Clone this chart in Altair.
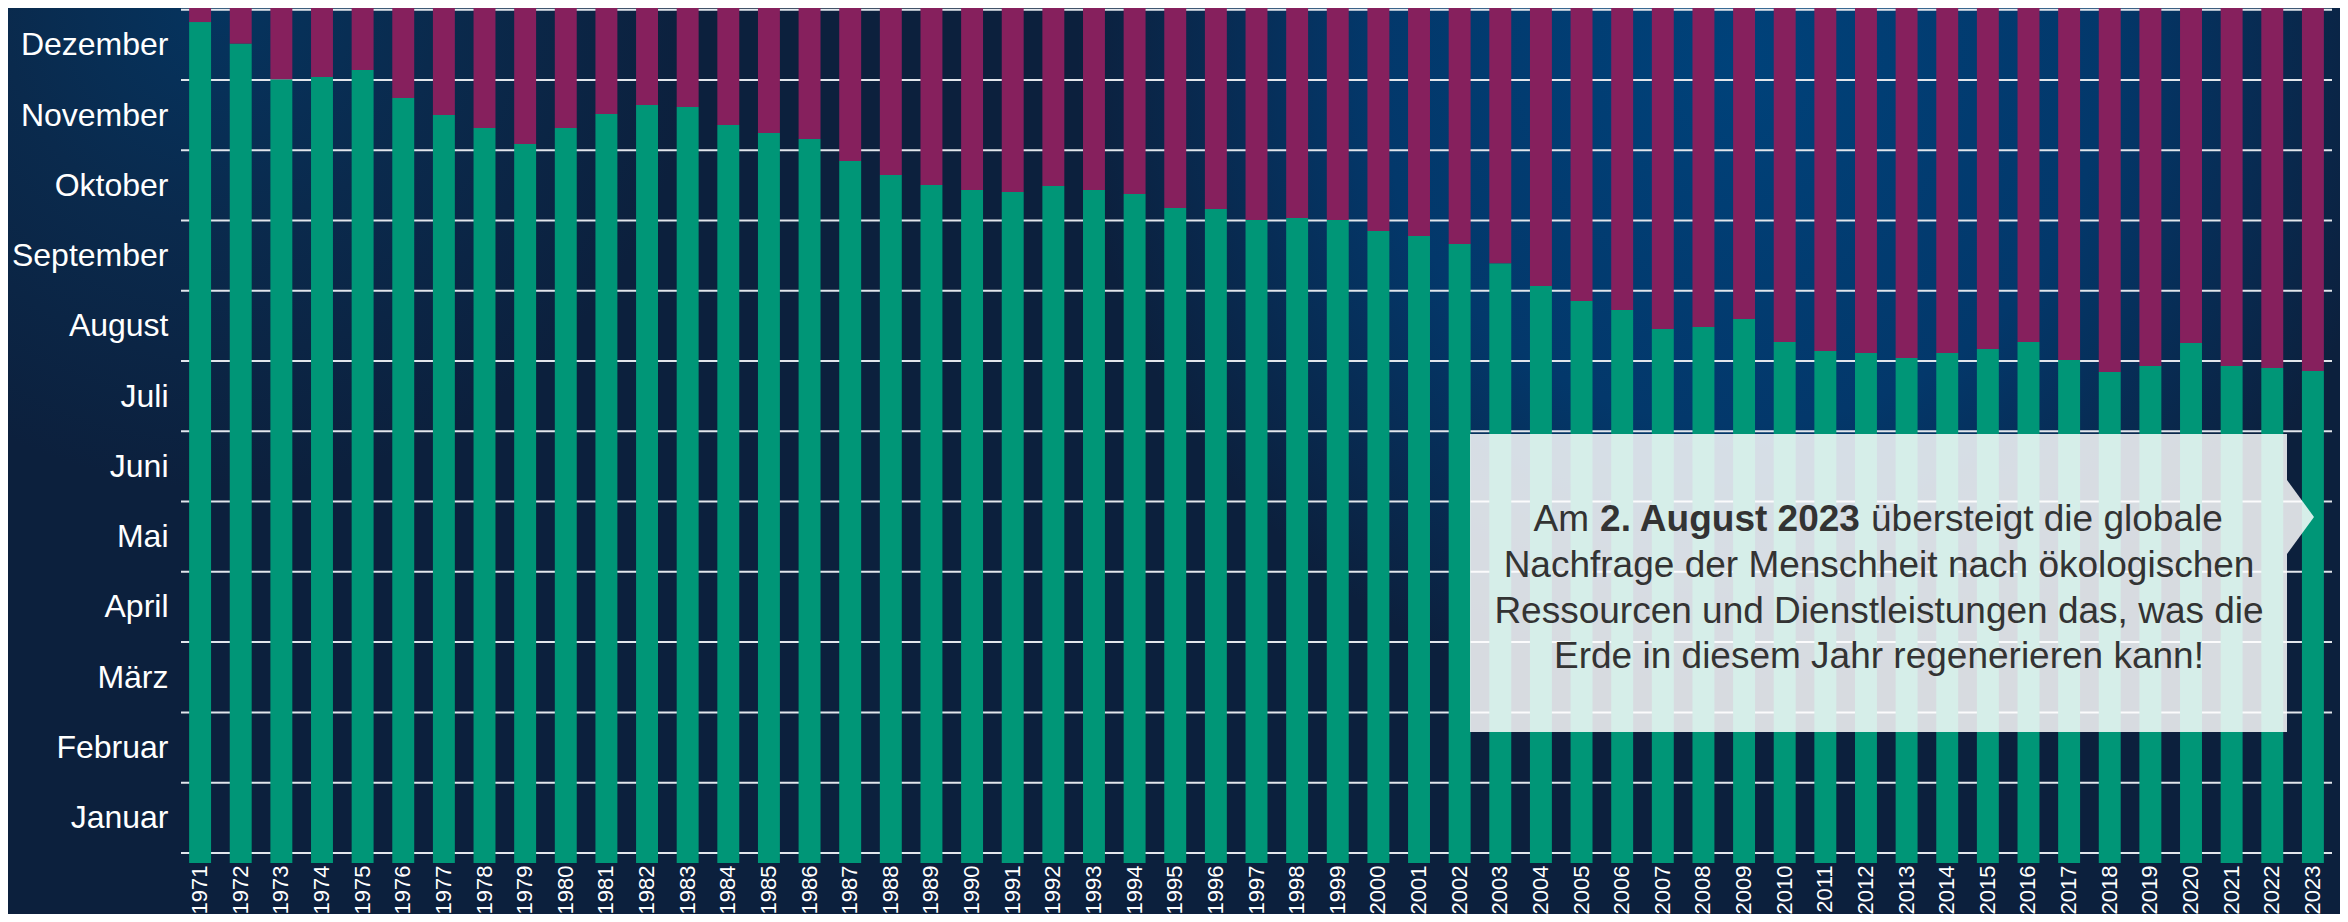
import altair as alt
import pandas as pd

FONT = "Liberation Sans"

YEARS = [str(y) for y in range(1971, 2024)]
# Earth overshoot point per year (chart units, bar runs 0..365)
OVERSHOOT = [
    359.0, 349.8, 334.6, 335.5, 338.5, 326.6, 319.3, 313.8, 306.9, 313.8,
    319.7, 323.6, 322.7, 315.0, 311.6, 309.1, 299.7, 293.7, 289.4, 287.3,
    286.4, 289.0, 287.3, 285.6, 279.6, 279.2, 274.5, 275.3, 274.5, 269.8,
    267.7, 264.2, 256.0, 246.3, 239.9, 236.1, 228.0, 228.8, 232.2, 222.4,
    218.6, 217.7, 215.6, 217.7, 219.4, 222.4, 214.7, 209.6, 212.2, 222.0,
    212.2, 211.3, 210.0,
]
YEAR_END = 365
MONTHS = ["Januar", "Februar", "März", "April", "Mai", "Juni", "Juli",
          "August", "September", "Oktober", "November", "Dezember"]
MONTH_EDGES = [4.3, 34.3, 64.3, 94.3, 124.3, 154.3, 184.3, 214.3,
               244.3, 274.3, 304.3, 334.3, 364.3]
MONTH_CENTERS = [19.3, 49.3, 79.3, 109.3, 139.3, 169.3, 199.3, 229.3,
                 259.3, 289.3, 319.3, 349.3]

LINE1_PRE = "Am"
LINE1_BOLD = "2. August 2023"
LINE1_POST = "übersteigt die globale"
LINES = [
    "Nachfrage der Menschheit nach ökologischen",
    "Ressourcen und Dienstleistungen das, was die",
    "Erde in diesem Jahr regenerieren kann!",
]

GREEN = "#009677"
PURPLE = "#86205d"
NAVY = "#0c203d"

df = pd.DataFrame({"year": YEARS, "day": OVERSHOOT, "end": [YEAR_END] * len(YEARS)})
edges = pd.DataFrame({"edge": MONTH_EDGES})
one = pd.DataFrame({"k": [0]})

month_js = "[" + ",".join("'%s'" % m for m in MONTHS) + "]"

xenc = alt.X(
    "year:O",
    scale=alt.Scale(paddingInner=0.46, paddingOuter=0.2),
    axis=alt.Axis(title=None, labelAngle=-90, labelFontSize=22, labelColor="white",
                  labelFont=FONT, ticks=False, domain=False, grid=False, labelPadding=2,
                  zindex=1),
)
yscale = alt.Scale(domain=[0, YEAR_END], nice=False, zero=True)
yaxis = alt.Axis(
    title=None, values=MONTH_CENTERS,
    labelExpr=month_js + "[round((datum.value - 19.3) / 30)]",
    ticks=False, domain=False, grid=False, labelFontSize=32, labelColor="white",
    labelFont=FONT, labelPadding=13, labelOverlap=False, zindex=1,
)


def glow(x0, x1, cx, cy, r, c0, c1, mid):
    return alt.Chart(one).mark_rect(
        fill={
            "gradient": "radial",
            "x1": cx, "y1": cy, "r1": 0,
            "x2": cx, "y2": cy, "r2": r,
            "stops": [
                {"offset": 0, "color": c0},
                {"offset": mid, "color": c1},
                {"offset": 1, "color": NAVY},
            ],
        }
    ).encode(x=alt.value(x0), x2=alt.value(x1), y=alt.value(0), y2=alt.value(906))


glow1 = glow(-173, 719, 0.242, 0.0, 0.53, "#05345f", "#0a2a4d", 0.45)
glow2 = glow(719, 2159, 0.583, 0.2215, 0.46, "#00427a", "#03386b", 0.55)

grid = alt.Chart(edges).mark_rule(color="#e2e6ec", strokeWidth=2).encode(
    y=alt.Y("edge:Q", scale=yscale, axis=yaxis)
)

green = alt.Chart(df).mark_bar(color=GREEN).encode(
    x=xenc, y=alt.Y("day:Q", scale=yscale, axis=yaxis)
)
purple = alt.Chart(df).mark_bar(color=PURPLE).encode(
    x=xenc, y=alt.Y("day:Q", scale=yscale, axis=yaxis), y2="end:Q"
)

box = alt.Chart(one).mark_rect(color="#ffffff", opacity=0.84).encode(
    x=alt.value(1289), x2=alt.value(2106), y=alt.value(426), y2=alt.value(724)
)
arrow = alt.Chart(one).mark_point(
    shape="M0,-1L0.73,0L0,1Z", filled=True, color="#ffffff", opacity=0.84,
    size=5476, strokeWidth=0,
).encode(x=alt.value(2106), y=alt.value(509))

tstyle = dict(font=FONT, fontSize=37, color="#333333", baseline="middle")
t_pre = alt.Chart(one).mark_text(text=LINE1_PRE, align="right", **tstyle).encode(
    x=alt.value(1408), y=alt.value(512))
t_bold = alt.Chart(one).mark_text(text=LINE1_BOLD, align="center", fontWeight="bold",
                                  **tstyle).encode(x=alt.value(1549), y=alt.value(512))
t_post = alt.Chart(one).mark_text(text=LINE1_POST, align="left", **tstyle).encode(
    x=alt.value(1690), y=alt.value(512))
t_lines = [
    alt.Chart(one).mark_text(text=txt, align="center", **tstyle).encode(
        x=alt.value(1698), y=alt.value(yy))
    for txt, yy in zip(LINES, [558, 604, 649])
]

chart = alt.layer(
    glow1, glow2, grid, green, purple, box, arrow, t_pre, t_bold, t_post, *t_lines
).properties(
    width=2151, height=855,
    padding={"left": 173, "top": 0, "right": 8, "bottom": 51},
    autosize=alt.AutoSizeParams(type="none"),
).configure(background=NAVY).configure_view(stroke=None)

chart.save("out.html", embed_options={"renderer": "svg", "actions": False})
